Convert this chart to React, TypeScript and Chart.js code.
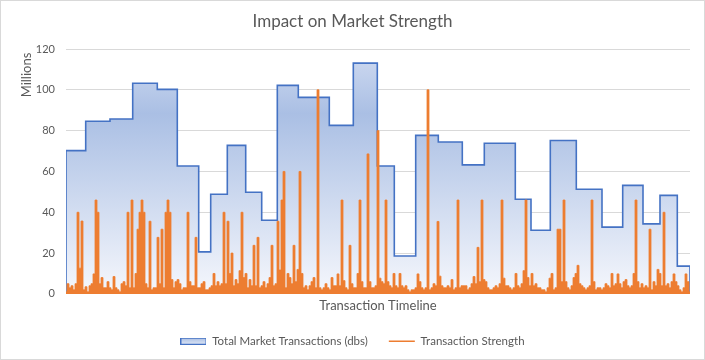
import React, { useEffect, useRef } from 'react';
import { Chart, registerables } from 'chart.js';

Chart.register(...registerables);

// ---- text ----
const chartTitle = 'Impact on Market Strength';
const xAxisTitle = 'Transaction Timeline';
const yUnitLabel = 'Millions';
const areaSeriesName = 'Total Market Transactions (dbs)';
const lineSeriesName = 'Transaction Strength';

// ---- value axis ----
const yMin = 0;
const yMax = 120;
const yStep = 20;

// ---- timeline (positions along the transaction timeline) ----
const timelineEnd = 624;

// Total market transactions: each period starts at a timeline position and holds a value (millions)
const periodStart = [
  0, 19.7, 44, 66.7, 91.3, 111.3, 132.7, 144.7, 161.3, 179.7,
  195.7, 211.3, 232.3, 263.3, 287.3, 311.3, 328.3, 349.7, 372.3, 396.3,
  418.3, 449.3, 465, 484.3, 510.3, 536, 556.7, 577, 594, 611.3,
];
const periodTotals = [
  70.2, 84.6, 85.7, 103.2, 100.2, 62.7, 20.6, 48.8, 72.8, 49.8,
  36.1, 102.2, 96.3, 82.6, 113.1, 62.7, 18.6, 77.7, 74.4, 63.2,
  73.8, 46.4, 31.2, 75.2, 51.3, 32.7, 53.2, 34.3, 48.3, 13.6,
];

// Transaction strength: one reading every `strengthSpacing` timeline units (millions)
const strengthSpacing = 2;
const strengthValues = [
  1, 5, 3, 4, 2, 5, 40, 12.6, 35.7, 2,
  3.5, 1, 4, 5, 9.8, 46, 40, 5, 8, 3,
  3, 6, 3, 2, 8.5, 3, 2, 1, 5, 6,
  4, 40, 3, 46, 3, 10, 31.7, 40, 46, 40,
  5, 3, 35.6, 2, 3, 3, 27.7, 5, 31.7, 3,
  40, 46, 40, 7, 3, 6, 7, 5, 2, 3,
  3, 40, 6, 4, 4, 27.7, 3, 3, 5, 6,
  2, 2, 3, 4, 10, 4, 6, 4, 5, 40,
  5, 35.6, 10, 20, 4, 7, 5, 11.4, 40, 8,
  10, 3, 7, 4, 23.8, 4, 27.7, 3, 4, 6,
  3, 5, 8, 23.8, 4, 5, 35.6, 11.7, 46, 60,
  3, 10, 8, 5, 23.8, 6, 12, 60, 10, 3,
  4, 2, 4, 6, 8, 3, 100, 3, 2, 3,
  5, 3, 2, 8, 4, 4, 9.8, 4, 46, 6.5,
  3, 2, 23.8, 5, 3, 3, 10, 46, 6, 3,
  3, 68.6, 6, 3, 3, 4, 80, 7.7, 6, 5,
  46, 6, 4, 3, 10, 4, 3, 10, 4, 3,
  4, 2, 1, 2, 2, 3, 9.8, 6, 3, 2,
  3, 100, 2, 3, 5, 4, 35.5, 8.7, 4, 3,
  3, 4, 3, 7, 2, 3, 46, 3, 4, 4,
  4, 2, 3, 5, 8.5, 5, 22.8, 6, 46, 7,
  6, 3, 2, 2, 3, 4, 3, 5, 46, 7.7,
  4, 4, 3, 2, 3, 10, 4, 3, 5, 11.4,
  46, 8, 4, 10, 4, 5, 3, 3, 2, 2,
  1, 3, 7.7, 10, 2, 3, 31.7, 31.7, 6, 46,
  6, 3, 2, 4, 8, 10, 14, 5, 4, 3,
  2, 3, 4, 46, 6, 2, 3, 3, 2, 3,
  5, 4, 3, 10, 4, 5, 9.8, 5, 3, 6,
  7, 4, 3, 4, 10, 46, 6, 3, 5, 3,
  4, 3, 31.7, 2, 6, 4, 12, 10, 4, 40,
  4, 5, 3, 6, 9.8, 6, 4, 2, 1, 3,
  9.8, 6, 1,
];

// ---- styles ----
const FONT = 'Lato, "Open Sans", sans-serif';
const TEXT = '#595959';
const GRID = '#d9d9d9';
const BLUE = '#4472C4';
const ORANGE = '#ED7D31';

export default function App() {
  const ref = useRef<HTMLCanvasElement | null>(null);

  useEffect(() => {
    document.body.style.margin = '0';
    const canvas = ref.current;
    if (!canvas) return;

    // legend swatch for the area series
    const swatch = document.createElement('canvas');
    swatch.width = 26;
    swatch.height = 7;
    const sctx = swatch.getContext('2d')!;
    const sg = sctx.createLinearGradient(0, 0, 0, 7);
    sg.addColorStop(0, 'rgb(168,189,227)');
    sg.addColorStop(1, 'rgb(225,232,246)');
    sctx.fillStyle = sg;
    sctx.fillRect(0, 0, 26, 7);
    sctx.strokeStyle = BLUE;
    sctx.lineWidth = 1;
    sctx.strokeRect(0.5, 0.5, 25, 6);

    const areaData = [
      { x: periodStart[0], y: 0 },
      ...periodStart.map((s, i) => ({ x: s, y: periodTotals[i] })),
      { x: timelineEnd, y: periodTotals[periodTotals.length - 1] },
      { x: timelineEnd, y: 0 },
    ];
    const strengthData = strengthValues.map((v, i) => ({ x: i * strengthSpacing, y: v }));
    const areaTop = Math.max(...periodTotals);

    const frame = {
      id: 'frame',
      beforeDraw(chart: any) {
        const c = chart.ctx;
        c.save();
        c.fillStyle = '#ffffff';
        c.fillRect(0, 0, chart.width, chart.height);
        c.strokeStyle = GRID;
        c.lineWidth = 1;
        c.strokeRect(0.5, 0.5, chart.width - 1, chart.height - 1);
        c.restore();
      },
      afterDraw(chart: any) {
        const c = chart.ctx;
        const ys = chart.scales.y;
        c.save();
        c.translate(27, ys.getPixelForValue(yMax) + 26);
        c.rotate(-Math.PI / 2);
        c.font = `13px ${FONT}`;
        c.fillStyle = TEXT;
        c.textAlign = 'center';
        c.textBaseline = 'middle';
        c.fillText(yUnitLabel, 0, 0);
        c.restore();
      },
    };

    const chart = new Chart(canvas, {
      type: 'line',
      data: {
        datasets: [
          {
            label: areaSeriesName,
            data: areaData,
            stepped: true,
            borderColor: BLUE,
            borderWidth: 1.6,
            pointRadius: 0,
            fill: 'origin',
            order: 2,
            backgroundColor: (ctx: any) => {
              const ch = ctx.chart;
              const ys = ch.scales?.y;
              if (!ch.chartArea || !ys) return 'rgb(190,205,235)';
              const top = ys.getPixelForValue(areaTop);
              const bottom = ys.getPixelForValue(0);
              const g = ch.ctx.createLinearGradient(0, top, 0, bottom);
              g.addColorStop(0, 'rgb(200,213,238)');
              g.addColorStop(0.22, 'rgb(170,191,228)');
              g.addColorStop(1, 'rgb(245,247,252)');
              return g;
            },
          },
          {
            label: lineSeriesName,
            data: strengthData,
            stepped: 'middle',
            borderColor: ORANGE,
            backgroundColor: ORANGE,
            borderWidth: 0.8,
            pointRadius: 0,
            fill: 'origin',
            order: 1,
          },
        ],
      },
      options: {
        animation: false,
        responsive: true,
        maintainAspectRatio: false,
        events: [],
        layout: { padding: { left: 0, right: 0, top: 0, bottom: 3 } },
        scales: {
          x: {
            type: 'linear',
            min: 0,
            max: timelineEnd,
            ticks: { display: false },
            grid: { display: false, drawTicks: false },
            border: { display: false },
            title: {
              display: true,
              text: xAxisTitle,
              color: TEXT,
              font: { family: FONT, size: 13 },
              padding: { top: 4, bottom: 1 },
            },
          },
          y: {
            min: yMin,
            max: yMax,
            ticks: {
              stepSize: yStep,
              color: TEXT,
              font: { family: FONT, size: 11 },
              padding: 11,
            },
            grid: { color: GRID, lineWidth: 1, drawTicks: false },
            border: { display: false },
            afterFit: (s: any) => {
              s.width = 66;
            },
          },
          yRight: {
            position: 'right',
            min: 0,
            max: 1,
            ticks: { display: false },
            grid: { display: false, drawTicks: false },
            border: { display: false },
            afterFit: (s: any) => {
              s.width = 15;
            },
          },
        },
        plugins: {
          title: {
            display: true,
            text: chartTitle,
            color: TEXT,
            font: { family: FONT, size: 17, weight: 'normal' },
            padding: { top: 11, bottom: 17.6 },
          },
          legend: {
            display: true,
            position: 'bottom',
            labels: {
              color: TEXT,
              font: { family: FONT, size: 11.5 },
              usePointStyle: true,
              pointStyleWidth: 26,
              boxHeight: 7,
              padding: 21,
              generateLabels: (ch: any) => {
                const items = (Chart as any).defaults.plugins.legend.labels.generateLabels(ch);
                items.forEach((it: any) => {
                  if (it.datasetIndex === 0) {
                    it.pointStyle = swatch;
                  } else {
                    it.pointStyle = 'line';
                    it.strokeStyle = ORANGE;
                    it.lineWidth = 1.6;
                  }
                });
                return items.sort((a: any, b: any) => a.datasetIndex - b.datasetIndex);
              },
            },
          },
          tooltip: { enabled: false },
        },
      },
      plugins: [frame],
    } as any);

    return () => chart.destroy();
  }, []);

  return (
    <div style={{ width: 705, height: 360, position: 'relative' }}>
      <canvas ref={ref} />
    </div>
  );
}
